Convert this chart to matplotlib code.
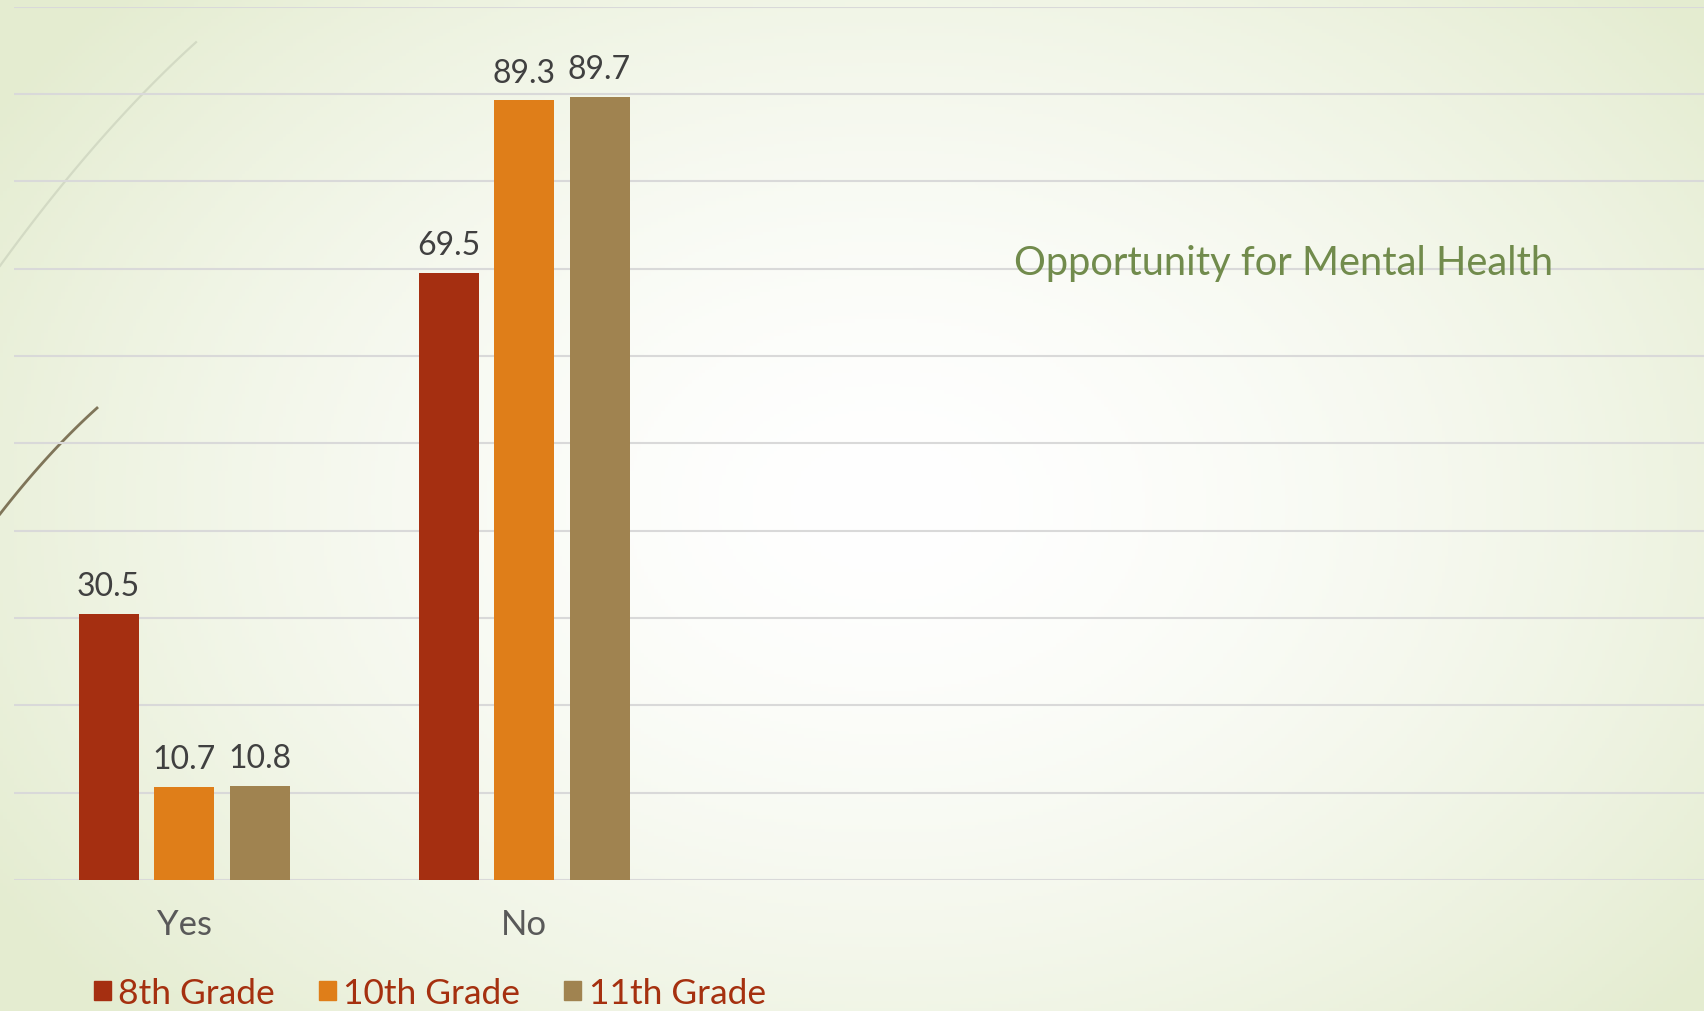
import numpy as np
import matplotlib.pyplot as plt
from matplotlib.patches import Patch

# data
categories = ['Yes', 'No']
grades = ['8th Grade', '10th Grade', '11th Grade']
grade8 = [30.5, 69.5]
grade10 = [10.7, 89.3]
grade11 = [10.8, 89.7]
colors = ['#A52F11', '#DF7E19', '#A08350']

plt.rcParams['font.family'] = ['Lato', 'DejaVu Sans']

W, H = 1704, 1012
fig = plt.figure(figsize=(W / 100, H / 100), dpi=100)

# slide background: pale green with a whitish glow in the middle
bg = fig.add_axes([0, 0, 1, 1])
yy, xx = np.mgrid[0:1:300j, 0:1:500j]
r = np.sqrt(((xx - 0.52) / 0.62) ** 2 + ((yy - 0.5) / 0.75) ** 2)
r = np.clip(r, 0, 1) ** 1.6
white = np.array([1.0, 1.0, 1.0])
green = np.array([0xE4, 0xEC, 0xD0]) / 255
img = white * (1 - r[..., None]) + green * r[..., None]
bg.imshow(img, extent=[0, 1, 0, 1], aspect='auto', origin='lower')
bg.set_xlim(0, 1)
bg.set_ylim(0, 1)
bg.axis('off')


# decorative curves at the left edge (pixel coords, y measured from top)
def swoosh(pts, **kw):
    pts = np.array(pts, dtype=float)
    k = np.polyfit(pts[:, 0], pts[:, 1], 2)
    xs = np.linspace(pts[0, 0], pts[-1, 0], 60)
    bg.plot(xs / W, 1 - np.polyval(k, xs) / H, **kw)


swoosh([[0, 267], [65, 182], [143, 95], [196, 43]], color='#D3DAC4', lw=1.6)
swoosh([[0, 515], [60, 445], [97, 409]], color='#7F7559', lw=2.0)

ax = fig.add_axes([14 / W, 131 / H, 1 - 14 / W, (1004.4 - 131) / H])
ax.patch.set_alpha(0)

x = np.arange(len(categories))
width = 0.1765
step = 0.222
for i, (vals, name) in enumerate(zip([grade8, grade10, grade11], grades)):
    bars = ax.bar(x + (i - 1) * step, vals, width, color=colors[i], label=name, zorder=3)
    ax.bar_label(bars, labels=['%.1f' % v for v in vals], padding=9,
                 fontsize=23, color='#404040')

ax.set_ylim(0, 100)
ax.set_xlim(-0.5, 4.47)
ax.set_yticks(np.arange(0, 101, 10))
ax.yaxis.grid(True, color='#D9D9D9', lw=1.5, zorder=0)
ax.tick_params(axis='y', left=False, labelleft=False)
ax.set_xticks(x)
ax.set_xticklabels(categories, fontsize=25, color='#595959')
ax.tick_params(axis='x', length=0, pad=20)
for s in ax.spines.values():
    s.set_visible(False)

fig.text(1014 / W, 1 - 264 / H, 'Opportunity for Mental Health', fontsize=28.7,
         color='#718B4C', ha='left', va='center')

handles = [Patch(color=c) for c in colors]
leg = fig.legend(handles, grades, loc='center left', bbox_to_anchor=(94 / W, 1 - 994 / H),
                 ncol=3, frameon=False, fontsize=25.5, handlelength=0.48, handleheight=0.48,
                 handletextpad=0.2, columnspacing=1.25, borderpad=0, borderaxespad=0)
for t in leg.get_texts():
    t.set_color('#A5300F')

fig.savefig('out.png', dpi=100)
